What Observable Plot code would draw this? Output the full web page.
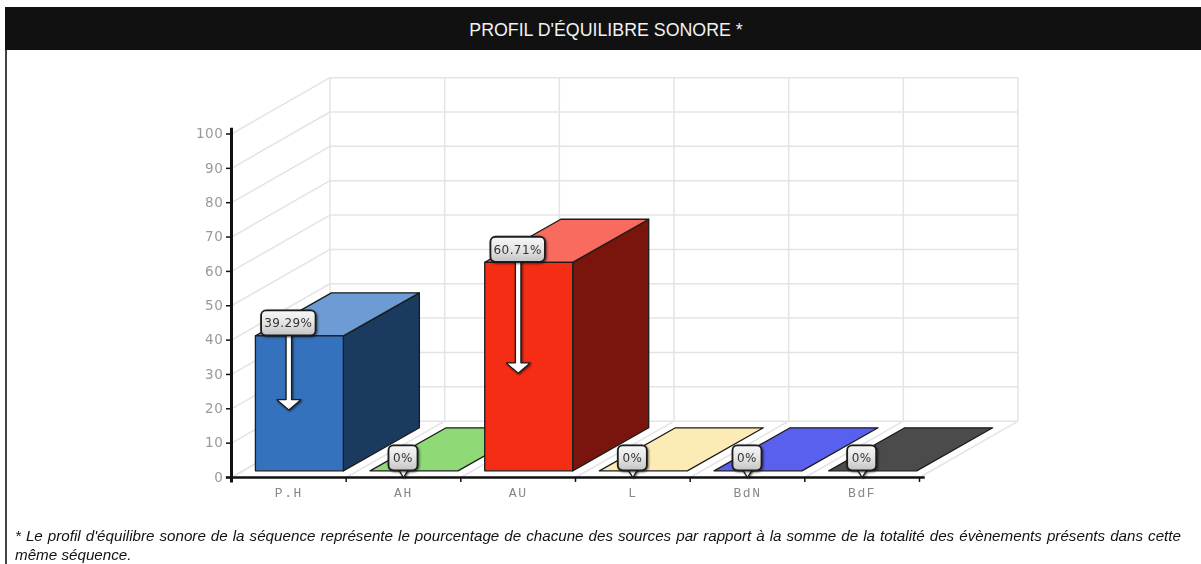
<!DOCTYPE html>
<html lang="fr">
<head>
<meta charset="utf-8">
<script src="https://cdn.jsdelivr.net/npm/d3@7"></script>
<script src="https://cdn.jsdelivr.net/npm/@observablehq/plot@0.6"></script>
<style>
html,body{margin:0;padding:0;background:#fff;overflow:hidden}
#page{position:relative;width:1201px;height:564px;filter:blur(.6px)}
#head{position:absolute;left:5px;top:7px;width:1196px;height:43px;background:#111;color:#f2f2f2;
 font:17.8px/46px "Liberation Sans",sans-serif;text-align:center;box-sizing:border-box;padding-left:6px}
#edge{position:absolute;left:5px;top:50px;width:2px;height:514px;background:#444}
#chart{position:absolute;left:7px;top:50px}
#note{position:absolute;left:15px;top:526px;width:1166px;font:italic 15.2px/19px "Liberation Sans",sans-serif;color:#111;text-align:justify}
.callout{filter:drop-shadow(1px 1px 1px rgba(0,0,0,.6))}
.cat text{letter-spacing:1.6px}
.yax text{letter-spacing:.6px}
.boxtext text{letter-spacing:.4px}
svg{overflow:visible}
</style>
</head>
<body>
<div id="page">
<div id="head">PROFIL D'ÉQUILIBRE SONORE *</div>
<div id="edge"></div>
<div id="chart"></div>
<div id="note">* Le profil d'équilibre sonore de la séquence représente le pourcentage de chacune des sources par rapport à la somme de la totalité des évènements présents dans cette même séquence.</div>
</div>
<script>
// Data
const categories = ["P.H", "AH", "AU", "L", "BdN", "BdF"];
const values = [39.29, 0, 60.71, 0, 0, 0];
const labels = ["39.29%", "0%", "60.71%", "0%", "0%", "0%"];
const yTicks = [0, 10, 20, 30, 40, 50, 60, 70, 80, 90, 100];

// Colours: front, top, side of each bar
const frontColors = ["#3572bd", "#8fd976", "#f52d14", "#fdebb6", "#5a60ee", "#4b4b4b"];
const topColors   = ["#6c9cd3", "#8fd976", "#f86b5e", "#fdebb6", "#5a60ee", "#4b4b4b"];
const sideColors  = ["#1a3a60", "#47703a", "#79150c", "#b5a677", "#2b2f9c", "#222222"];

// 3-D projection, in scale units (one band on x, one percent on y)
const wallDx = 0.859, wallDy = 16.4;
const barDx = 0.663, barDy = 12.54, barW = 0.767;
const insetX = (wallDx - barDx) / 2 + (1 - barW) / 2 - 0.006;
const insetY = (wallDy - barDy) / 2;
const n = categories.length;

// Wall and floor grid
const grid = [];
for (const t of yTicks) {
  grid.push({x1: 0, y1: t, x2: wallDx, y2: t + wallDy});
  grid.push({x1: wallDx, y1: t + wallDy, x2: n + wallDx, y2: t + wallDy});
}
for (let i = 0; i <= n; i++) {
  grid.push({x1: i, y1: 0, x2: i + wallDx, y2: wallDy});
  grid.push({x1: i + wallDx, y1: wallDy, x2: i + wallDx, y2: 100 + wallDy});
}

// Polygons of the bars, back-to-front order is category order
function poly(points, id, fill) {
  return points.concat([points[0]]).map(([x, y]) => ({x, y, id, fill}));
}
const faces = values.flatMap((v, i) => {
  const x0 = i + insetX, x1 = x0 + barW, y0 = insetY, y1 = insetY + v;
  const out = [];
  if (v > 0) {
    out.push(...poly([[x1, y0], [x1 + barDx, y0 + barDy], [x1 + barDx, y1 + barDy], [x1, y1]], "side" + i, sideColors[i]));
    out.push(...poly([[x0, y1], [x1, y1], [x1 + barDx, y1 + barDy], [x0 + barDx, y1 + barDy]], "top" + i, topColors[i]));
    out.push(...poly([[x0, y0], [x1, y0], [x1, y1], [x0, y1]], "front" + i, frontColors[i]));
  } else {
    out.push(...poly([[x0, y0], [x1, y0], [x1 + barDx, y0 + barDy], [x0 + barDx, y0 + barDy]], "floor" + i, topColors[i]));
  }
  return out;
});

// Callouts
const boxH = 7.3;
const boxes = values.map((v, i) => {
  const w = v > 0 ? 0.475 : 0.253;
  return {x1: i + 0.5 - w / 2, x2: i + 0.5 + w / 2, y1: v + insetY, y2: v + insetY + boxH, cx: i + 0.5, cy: v + insetY + boxH / 2, text: labels[i]};
});
const arrows = values.flatMap((v, i) => {
  const c = i + 0.5, top = v + insetY + 0.5;
  if (v > 0) {
    const tip = v / 2, sh = 0.024, hd = 0.105, hh = 3;
    return poly([[c - sh, top], [c + sh, top], [c + sh, tip + hh], [c + hd, tip + hh], [c, tip], [c - hd, tip + hh], [c - sh, tip + hh]], "arrow" + i, "#fff");
  }
  return poly([[c - 0.045, top], [c + 0.045, top], [c, 0]], "arrow" + i, "#fff");
});

const plot = Plot.plot({
  width: 1194,
  height: 470,
  marginLeft: 224,
  marginRight: 282,
  marginTop: 83.5,
  marginBottom: 43,
  x: {type: "linear", domain: [0, n]},
  y: {type: "linear", domain: [0, 100]},
  style: {background: "transparent", overflow: "visible"},
  marks: [
    () => {
      const ns = "http://www.w3.org/2000/svg";
      const defs = document.createElementNS(ns, "defs");
      const g = document.createElementNS(ns, "linearGradient");
      g.setAttribute("id", "boxFill");
      g.setAttribute("x1", "0"); g.setAttribute("y1", "0"); g.setAttribute("x2", "0"); g.setAttribute("y2", "1");
      [["0", "#f8f8f8"], ["0.55", "#e2e2e2"], ["1", "#c4c4c4"]].forEach(([o, c]) => {
        const s = document.createElementNS(ns, "stop");
        s.setAttribute("offset", o); s.setAttribute("stop-color", c);
        g.appendChild(s);
      });
      defs.appendChild(g);
      return defs;
    },
    Plot.link(grid, {x1: "x1", y1: "y1", x2: "x2", y2: "y2", stroke: "#e4e4e4", strokeWidth: 1.5}),
    Plot.line(faces, {x: "x", y: "y", z: "id", fill: "fill", stroke: "#1c1c1c", strokeWidth: 1.3, strokeLinejoin: "round"}),
    Plot.axisY({ticks: yTicks, tickSize: 5, tickPadding: 3, stroke: "#111", strokeWidth: 1.5, fill: "#999", fontSize: 13.5, fontFamily: "DejaVu Sans", tickFormat: d => String(d), label: null, className: "yax"}),
    Plot.axisX({ticks: d3.range(0, n + 1), tickSize: 5, stroke: "#111", strokeWidth: 1.5, tickFormat: () => "", label: null, anchor: "bottom"}),
    Plot.ruleX([0], {y1: -1.6, y2: 101.7, stroke: "#111", strokeWidth: 3}),
    Plot.ruleY([0], {x1: -0.045, x2: n + 0.05, stroke: "#111", strokeWidth: 2.5}),
    Plot.text(categories, {x: (d, i) => i + 0.5, y: 0, dy: 15, text: d => d, fill: "#888", fontFamily: "Liberation Mono", fontSize: 13, className: "cat"}),
    Plot.line(arrows, {x: "x", y: "y", z: "id", fill: "fill", stroke: "#1c1c1c", strokeWidth: 1.3, strokeLinejoin: "miter", className: "callout"}),
    Plot.rect(boxes, {x1: "x1", x2: "x2", y1: "y1", y2: "y2", rx: 5, fill: "url(#boxFill)", stroke: "#1c1c1c", strokeWidth: 1.8, className: "callout"}),
    Plot.text(boxes, {x: "cx", y: "cy", dx: -0.5, text: "text", fill: "#333", fontFamily: "DejaVu Sans", fontSize: 12, className: "boxtext"})
  ]
});
document.getElementById("chart").appendChild(plot);
</script>
</body>
</html>
